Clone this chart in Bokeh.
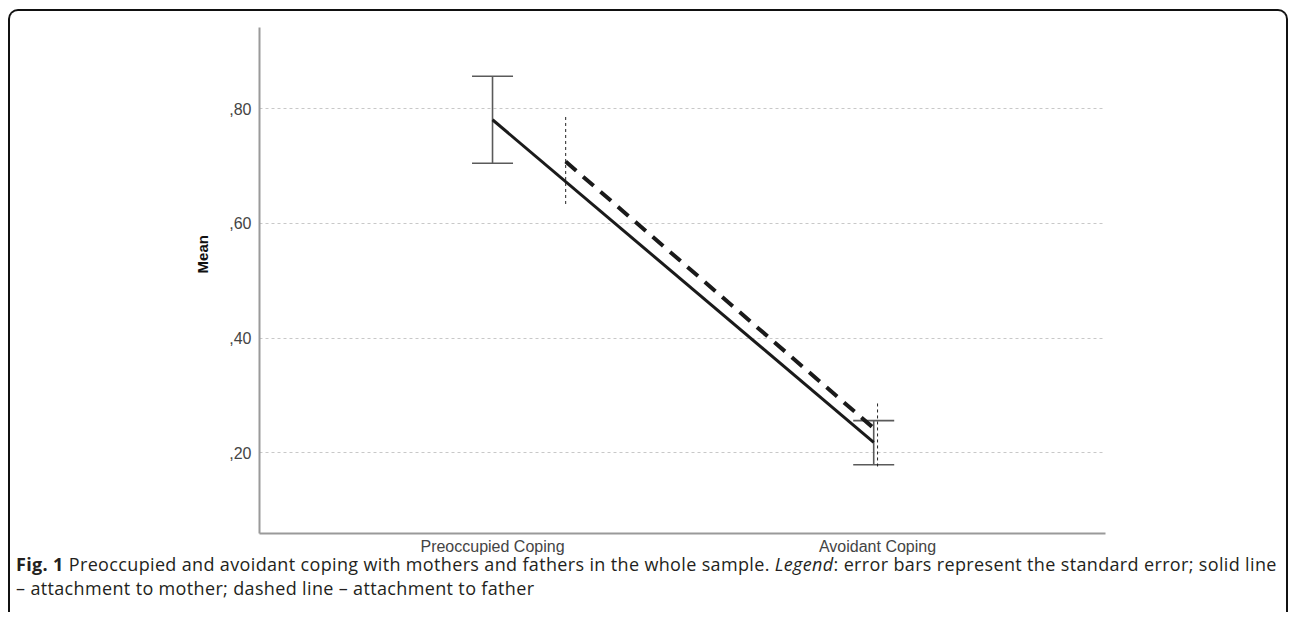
from bokeh.plotting import figure
from bokeh.models import Range1d, FixedTicker, Whisker, TeeHead, ColumnDataSource, Div
from bokeh.layouts import column
from bokeh.embed import file_html
from bokeh.resources import INLINE

# ---- data ----
categories = ["Preoccupied Coping", "Avoidant Coping"]
cat_pos = [1.0, 2.0]
mother_x = [1.0, 1.99]
mother_mean = [0.781, 0.218]
mother_upper = [0.857, 0.256]
mother_lower = [0.705, 0.179]
father_x = [1.19, 2.0]
father_mean = [0.708, 0.237]
father_upper = [0.788, 0.286]
father_lower = [0.634, 0.176]
y_ticks = [0.2, 0.4, 0.6, 0.8]
y_tick_labels = [",20", ",40", ",60", ",80"]
y_title = "Mean"
caption_html = ("<b>Fig. 1</b> Preoccupied and avoidant coping with mothers and fathers in the "
                "whole sample. <i>Legend</i>: error bars represent the standard error; solid line"
                "<br>\u2013 attachment to mother; dashed line \u2013 attachment to father")

W, H = 1276, 556
p = figure(width=W, height=H, output_backend="svg", toolbar_location=None,
           x_range=Range1d(0.3948, 2.592), y_range=Range1d(0.059, 0.942),
           min_border_left=249, min_border_right=181, min_border_top=16,
           min_border_bottom=34)
p.outline_line_color = None
p.background_fill_color = "white"
p.border_fill_color = None

# axes
p.xaxis.ticker = FixedTicker(ticks=cat_pos)
p.xaxis.major_label_overrides = {c: l for c, l in zip(cat_pos, categories)}
p.yaxis.ticker = FixedTicker(ticks=y_ticks)
p.yaxis.major_label_overrides = {t: l for t, l in zip(y_ticks, y_tick_labels)}
for ax in (p.xaxis[0], p.yaxis[0]):
    ax.axis_line_color = "#9a9a9a"
    ax.axis_line_width = 2
    ax.major_tick_line_color = None
    ax.minor_tick_line_color = None
    ax.major_label_text_font = "Liberation Sans"
    ax.major_label_text_font_size = "16px"
    ax.major_label_text_color = "#444444"
p.xaxis.major_label_standoff = -2
p.yaxis.major_label_standoff = 2

# y-axis title: leading en-spaces shift it upward like in the reference
p.yaxis.axis_label = "\u2002" * 7 + y_title
p.yaxis.axis_label_text_font = "Liberation Sans"
p.yaxis.axis_label_text_font_style = "bold"
p.yaxis.axis_label_text_font_size = "15px"
p.yaxis.axis_label_text_color = "#111111"
p.yaxis.axis_label_standoff = 15

p.xgrid.grid_line_color = None
p.ygrid.grid_line_color = "#c8c8c8"
p.ygrid.grid_line_dash = "3 3"
p.ygrid.grid_line_width = 1

# mother error bars
msrc = ColumnDataSource(dict(x=mother_x, mean=mother_mean, up=mother_upper, lo=mother_lower))
wh = Whisker(base="x", upper="up", lower="lo", source=msrc, dimension="height",
             line_color="#5a5a5a", line_width=1.6,
             upper_head=TeeHead(size=41, line_color="#5a5a5a", line_width=1.6),
             lower_head=TeeHead(size=41, line_color="#5a5a5a", line_width=1.6))
p.add_layout(wh)

# father error bars (dashed, no caps)
p.segment(x0=father_x, y0=father_lower, x1=father_x, y1=father_upper,
          line_color="#222222", line_width=1, line_dash="3 3")

# lines
p.line(mother_x, mother_mean, line_color="#1a1a1a", line_width=3)
p.line(father_x, father_mean, line_color="#1a1a1a", line_width=4, line_dash="14 9")

cap = Div(text=caption_html, width=1266, height=60, margin=(-15, 0, 0, 6),
          styles={"font-family": "'Open Sans'", "font-size": "18px",
                  "letter-spacing": "0.35px",
                  "color": "#231f20", "line-height": "24px", "white-space": "nowrap"})

lay = column(p, cap, margin=(9, 0, 0, 8),
             styles={"border": "2px solid #111111", "border-bottom": "none",
                     "border-radius": "10px 10px 0 0"})

open("out.html", "w").write(file_html(lay, INLINE))
